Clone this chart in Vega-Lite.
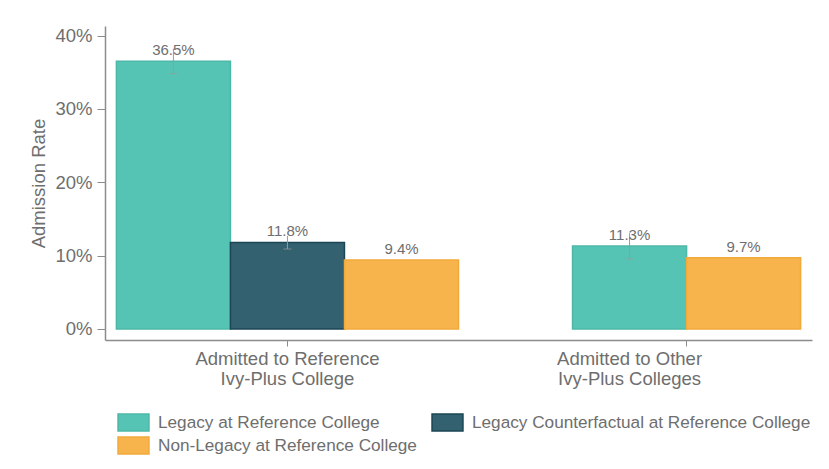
{
  "$schema": "https://vega.github.io/schema/vega-lite/v6.json",
  "width": 707,
  "height": 314,
  "padding": {"left": 29, "top": 26, "right": 5, "bottom": 5},
  "background": "white",
  "config": {
    "view": {"stroke": null},
    "font": "Liberation Sans",
    "axis": {
      "domainColor": "#8c8c8c",
      "tickColor": "#8c8c8c",
      "labelColor": "#6e6e6e",
      "titleColor": "#6e6e6e",
      "labelFont": "Liberation Sans",
      "titleFont": "Liberation Sans",
      "labelFontSize": 18.5,
      "titleFontSize": 18.5,
      "titleFontWeight": "normal",
      "labelLimit": 0,
      "grid": false,
      "domainWidth": 1.5
    },
    "legend": {
      "labelFont": "Liberation Sans",
      "labelFontSize": 17.2,
      "labelColor": "#6e6e6e",
      "labelLimit": 0,
      "rowPadding": 0,
      "columnPadding": 12,
      "symbolType": "M-1.82,-1H1.82V1H-1.82Z",
      "symbolSize": 289,
      "symbolStrokeWidth": 1.5,
      "labelOffset": 15
    }
  },
  "data": {
    "values": [
      {"group": "Admitted to Reference Ivy-Plus College", "key": "g1_L", "series": "Legacy at Reference College", "rate": 0.365, "lo": 0.348, "hi": 0.382},
      {"group": "Admitted to Reference Ivy-Plus College", "key": "g1_C", "series": "Legacy Counterfactual at Reference College", "rate": 0.118, "lo": 0.109, "hi": 0.127},
      {"group": "Admitted to Reference Ivy-Plus College", "key": "g1_N", "series": "Non-Legacy at Reference College", "rate": 0.094},
      {"group": "Admitted to Other Ivy-Plus Colleges", "key": "g2_L", "series": "Legacy at Reference College", "rate": 0.113, "lo": 0.0955, "hi": 0.1305},
      {"group": "Admitted to Other Ivy-Plus Colleges", "key": "g2_N", "series": "Non-Legacy at Reference College", "rate": 0.097}
    ]
  },
  "resolve": {"axis": {"x": "independent"}},
  "layer": [
    {
      "mark": {"type": "bar", "strokeWidth": 1.5},
      "encoding": {
        "x": {
          "field": "key", "type": "nominal",
          "scale": {"domain": ["g1_L", "g1_C", "g1_N", "gap", "g2_L", "g2_N"], "paddingInner": 0, "paddingOuter": 0.1},
          "axis": {"orient": "bottom", "values": ["g1_C"], "labelExpr": "['Admitted to Reference', 'Ivy-Plus College']", "title": null, "labelAngle": 0, "labelLimit": 0, "tickSize": 6, "labelPadding": 3, "labelLineHeight": 20}
        },
        "y": {
          "field": "rate", "type": "quantitative",
          "scale": {"domain": [-0.015, 0.413], "nice": false, "zero": false},
          "axis": {"title": "Admission Rate", "values": [0, 0.1, 0.2, 0.3, 0.4], "format": ".0%", "tickSize": 8, "labelPadding": 5, "titlePadding": 6}
        },
        "y2": {"datum": 0},
        "fill": {
          "field": "series", "type": "nominal",
          "scale": {"domain": ["Legacy at Reference College", "Legacy Counterfactual at Reference College", "Non-Legacy at Reference College"], "range": ["#56c4b4", "#336170", "#f7b44c"]},
          "legend": {"title": null, "orient": "none", "legendX": 19, "legendY": 387, "columns": 2, "direction": "horizontal", "rowPadding": 0, "symbolOpacity": 1}
        },
        "stroke": {
          "field": "series", "type": "nominal",
          "scale": {"domain": ["Legacy at Reference College", "Legacy Counterfactual at Reference College", "Non-Legacy at Reference College"], "range": ["#4db8a7", "#1c4556", "#f2a93c"]},
          "legend": {"title": null, "orient": "none", "legendX": 19, "legendY": 387, "columns": 2, "direction": "horizontal", "rowPadding": 0}
        }
      }
    },
    {
      "transform": [{"filter": "isValid(datum.lo)"}],
      "mark": {"type": "rule", "color": "#9a9a9a", "strokeWidth": 1},
      "encoding": {
        "x": {"field": "key", "type": "nominal", "axis": null},
        "y": {"field": "lo", "type": "quantitative", "axis": {"title": "Admission Rate"}},
        "y2": {"field": "hi"}
      }
    },
    {
      "transform": [{"filter": "isValid(datum.lo)"}],
      "mark": {"type": "tick", "orient": "horizontal", "color": "#9a9a9a", "size": 8, "thickness": 1},
      "encoding": {
        "x": {"field": "key", "type": "nominal", "axis": null},
        "y": {"field": "lo", "type": "quantitative", "axis": {"title": "Admission Rate"}}
      }
    },
    {
      "mark": {"type": "text", "baseline": "alphabetic", "dy": -6, "fontSize": 15, "color": "#6e6e6e", "font": "Liberation Sans"},
      "encoding": {
        "x": {
          "field": "key", "type": "nominal",
          "axis": {"orient": "bottom", "values": ["g2_L"], "bandPosition": 1, "labelExpr": "['Admitted to Other', 'Ivy-Plus Colleges']", "title": null, "labelAngle": 0, "labelLimit": 0, "domain": false, "tickSize": 6, "labelPadding": 3, "labelLineHeight": 20}
        },
        "y": {"field": "rate", "type": "quantitative", "axis": {"title": "Admission Rate"}},
        "text": {"field": "rate", "type": "quantitative", "format": ".1%"}
      }
    }
  ]
}
